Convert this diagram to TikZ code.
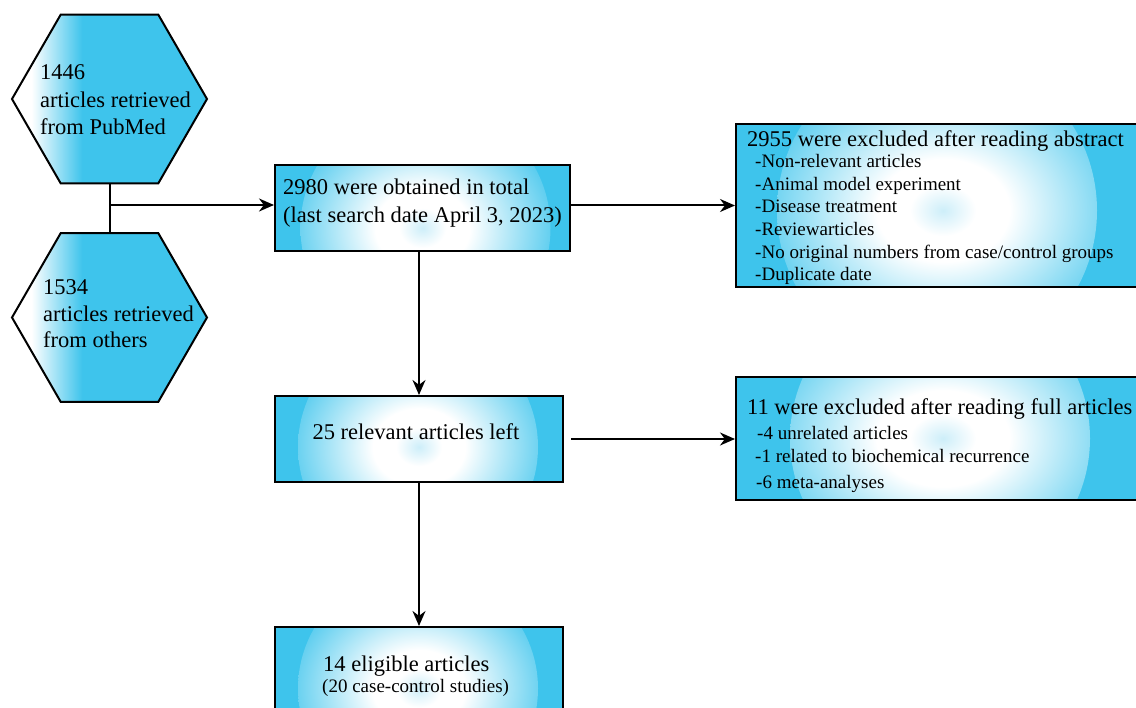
\documentclass[tikz,border=0pt]{standalone}
\usepackage{fontspec}
\setmainfont{Liberation Serif}
\newfontfamily\tnr{Liberation Serif}
\usetikzlibrary{arrows.meta,shapes.geometric,calc}
\definecolor{boxcyan}{RGB}{62,196,236}
\definecolor{spotcyan}{RGB}{205,238,249}
\pgfdeclareradialshading{ringshade}{\pgfpoint{0bp}{0bp}}{color(0bp)=(spotcyan); color(4bp)=(white); color(8bp)=(white); color(25bp)=(boxcyan); color(50bp)=(boxcyan)}
\pgfdeclarehorizontalshading{hexshade}{100bp}{color(0bp)=(white); color(30bp)=(white); color(43bp)=(boxcyan); color(100bp)=(boxcyan)}
\tikzset{
  box/.style n args={3}{draw, line width=2pt, rectangle, inner sep=0pt, fill=boxcyan,
    path picture={\shade[shading=ringshade] ($(path picture bounding box.center)+(#1,#2)$) circle (#3);}},
  hexa/.style={draw, line width=2pt, regular polygon, regular polygon sides=6,
    minimum size=195pt, inner sep=0pt, shading=hexshade},
  big/.style={font=\tnr\fontsize{22.5}{27}\selectfont, inner sep=0pt, anchor=base west},
  small/.style={font=\tnr\fontsize{19}{23}\selectfont, inner sep=0pt, anchor=base west},
  conn/.style={line width=2pt},
  arr/.style={line width=2pt, -{Stealth[length=15pt,width=13pt]}}
}
\begin{document}
\begin{tikzpicture}[x=1pt,y=-1pt]
\useasboundingbox (0,0) rectangle (1136,708);
\fill[white] (0,0) rectangle (1136,708);

% hexagons
\node[hexa] (h1) at (109.5,99) {};
\node[hexa] (h2) at (109.5,317.5) {};
\coordinate (j) at (109.5,205);

% boxes
\node[box={3}{20}{125}, minimum width=295pt, minimum height=86pt] (b1) at (422.5,208) {};
\node[box={-6}{5}{160}, minimum width=414pt, minimum height=163pt] (b2) at (943,205.5) {};
\node[box={-1}{8}{120}, minimum width=288pt, minimum height=86pt] (b3) at (419,439) {};
\node[box={-3}{0}{150}, minimum width=414pt, minimum height=123pt] (b4) at (943,438.5) {};
\node[box={-1}{15}{120}, minimum width=288pt, minimum height=93pt] (b5) at (419,673.5) {};

% connectors
\draw[conn] (h1.south) -- (h2.north);
\draw[arr] (j) -- (j -| b1.west);
\draw[arr] (b1.east |- b2.west) -- (b2.west);
\draw[arr] (b3.north |- b1.south) -- (b3.north);
\draw[arr] ([xshift=7pt]b3.east) -- (b4.west |- b3.east);
\draw[arr] (b3.south) -- (b5.north);

% hexagon texts
\node[big] (t1a) at (40,80) {1446};
\node[big] (t1b) at (40,108) {articles retrieved};
\node[big] (t1c) at (40,135) {from PubMed};
\node[big] (t2a) at (43,295) {1534};
\node[big] (t2b) at (43,322) {articles retrieved};
\node[big] (t2c) at (43,348) {from others};

% box 1
\node[big] (t3a) at (283,195) {2980 were obtained in total};
\node[big] (t3b) at (283,223) {(last search date April 3, 2023)};

% box 2
\node[big] (t4) at (747,147) {2955 were excluded after reading abstract};
\node[small] (t4a) at (755,168) {-Non-relevant articles};
\node[small] (t4b) at (755,190.5) {-Animal model experiment};
\node[small] (t4c) at (755,213) {-Disease treatment};
\node[small] (t4d) at (755,236) {-Reviewarticles};
\node[small] (t4e) at (755,258.5) {-No original numbers from case/control groups};
\node[small] (t4f) at (755,281) {-Duplicate date};

% box 3
\node[big, anchor=base] (t5) at (416,440) {25 relevant articles left};

% box 4
\node[big] (t6) at (747,415) {11 were excluded after reading full articles};
\node[small] (t6a) at (757,440) {-4 unrelated articles};
\node[small] (t6b) at (755,462.5) {-1 related to biochemical recurrence};
\node[small] (t6c) at (756,488.5) {-6 meta-analyses};

% box 5
\node[big] (t7a) at (323,671) {14 eligible articles};
\node[small] (t7b) at (322,692) {(20 case-control studies)};
\end{tikzpicture}
\end{document}
